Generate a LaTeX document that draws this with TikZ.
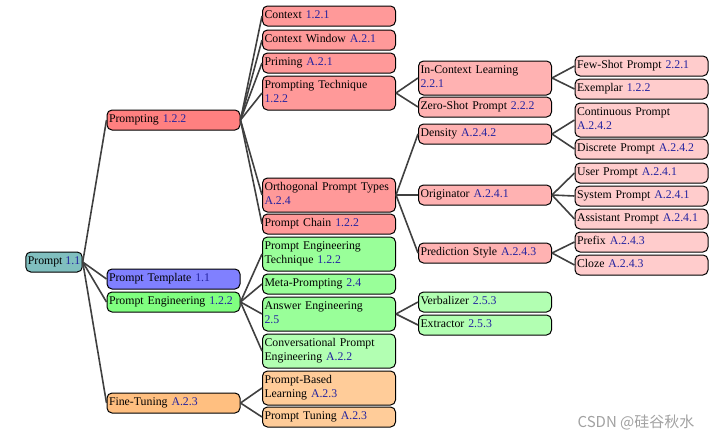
\documentclass[tikz,border=0pt]{standalone}
\usepackage{fontspec}
\setmainfont{Liberation Serif}
\newfontfamily\cjkfont{Noto Sans CJK SC}
\usepackage{tikz}

\definecolor{refblue}{RGB}{35,35,160}
\definecolor{linkgray}{RGB}{64,64,64}
\newcommand{\secnum}[1]{\textcolor{refblue}{#1}}

\tikzset{
  box/.style = {draw, line width = 1pt, rounded corners = 5pt, align = left,
    text width = 129pt, inner xsep = 2pt, inner ysep = 3pt,
    font = \fontsize{11.8}{14}\selectfont,
    execute at begin node = \strut, execute at end node = \strut},
  link/.style = {line width = 1.6pt, color = linkgray},
}

\begin{document}
\begin{tikzpicture}[x = 1pt, y = -1pt]
\useasboundingbox (0, 0) rectangle (720, 439);
% root and first level
\node (prompt) at (54, 262) [box, text width = {}, fill = teal!50] {Prompt \secnum{1.1}};
\node (prompting) at (173.5, 120) [box, fill = red!50] {Prompting \secnum{1.2.2}};
\node (template) at (173.5, 279) [box, fill = blue!50] {Prompt Template \secnum{1.1}};
\node (engineering) at (173.5, 302) [box, fill = green!50] {Prompt Engineering \secnum{1.2.2}};
\node (finetuning) at (173.5, 403) [box, fill = orange!50] {Fine-Tuning \secnum{A.2.3}};
% second level
\node (context) at (329, 16) [box, fill = red!40] {Context \secnum{1.2.1}};
\node (window) at (329, 40) [box, fill = red!40] {Context Window \secnum{A.2.1}};
\node (priming) at (329, 63) [box, fill = red!40] {Priming \secnum{A.2.1}};
\node (technique) at (329, 93) [box, fill = red!40] {Prompting Technique\\ \secnum{1.2.2}};
\node (orthogonal) at (329, 195) [box, fill = red!40] {Orthogonal Prompt Types\\ \secnum{A.2.4}};
\node (chain) at (329, 224) [box, fill = red!40] {Prompt Chain \secnum{1.2.2}};
\node (engtechnique) at (329, 254) [box, fill = green!40] {Prompt Engineering\\ Technique \secnum{1.2.2}};
\node (meta) at (329, 284) [box, fill = green!40] {Meta-Prompting \secnum{2.4}};
\node (answer) at (329, 314) [box, fill = green!40] {Answer Engineering\\ \secnum{2.5}};
\node (conversational) at (329, 351) [box, fill = green!30] {Conversational Prompt\\ Engineering \secnum{A.2.2}};
\node (promptbased) at (329, 388) [box, fill = orange!40] {Prompt-Based\\ Learning \secnum{A.2.3}};
\node (tuning) at (329, 417) [box, fill = orange!40] {Prompt Tuning \secnum{A.2.3}};
% third level
\node (icl) at (485, 78) [box, fill = red!30] {In-Context Learning\\ \secnum{2.2.1}};
\node (zeroshot) at (485, 107) [box, fill = red!30] {Zero-Shot Prompt \secnum{2.2.2}};
\node (density) at (485, 134) [box, fill = red!30] {Density \secnum{A.2.4.2}};
\node (originator) at (485, 195) [box, fill = red!30] {Originator \secnum{A.2.4.1}};
\node (prediction) at (485, 253) [box, fill = red!30] {Prediction Style \secnum{A.2.4.3}};
\node (verbalizer) at (485, 302) [box, fill = green!30] {Verbalizer \secnum{2.5.3}};
\node (extractor) at (485, 325) [box, fill = green!30] {Extractor \secnum{2.5.3}};
% fourth level
\node (fewshot) at (641.5, 66) [box, fill = red!20] {Few-Shot Prompt \secnum{2.2.1}};
\node (exemplar) at (641.5, 89) [box, fill = red!20] {Exemplar \secnum{1.2.2}};
\node (continuous) at (641.5, 120) [box, fill = red!20] {Continuous Prompt\\ \secnum{A.2.4.2}};
\node (discrete) at (641.5, 149) [box, fill = red!20] {Discrete Prompt \secnum{A.2.4.2}};
\node (user) at (641.5, 173) [box, fill = red!20] {User Prompt \secnum{A.2.4.1}};
\node (system) at (641.5, 196) [box, fill = red!20] {System Prompt \secnum{A.2.4.1}};
\node (assistant) at (641.5, 219) [box, fill = red!20] {Assistant Prompt \secnum{A.2.4.1}};
\node (prefix) at (641.5, 242) [box, fill = red!20] {Prefix \secnum{A.2.4.3}};
\node (cloze) at (641.5, 265) [box, fill = red!20] {Cloze \secnum{A.2.4.3}};
% links
\foreach \a/\b in {prompt/prompting, prompt/template, prompt/engineering, prompt/finetuning,
  prompting/context, prompting/window, prompting/priming, prompting/technique,
  prompting/orthogonal, prompting/chain,
  engineering/engtechnique, engineering/meta, engineering/answer, engineering/conversational,
  finetuning/promptbased, finetuning/tuning,
  technique/icl, technique/zeroshot,
  orthogonal/density, orthogonal/originator, orthogonal/prediction,
  answer/verbalizer, answer/extractor,
  icl/fewshot, icl/exemplar, density/continuous, density/discrete,
  originator/user, originator/system, originator/assistant,
  prediction/prefix, prediction/cloze}
  \draw[link] (\a.east) -- (\b.west);
\node (mark) at (636, 422) [color = black!37, font = \cjkfont\fontsize{15}{17}\selectfont] {CSDN @硅谷秋水};
\end{tikzpicture}
\end{document}
